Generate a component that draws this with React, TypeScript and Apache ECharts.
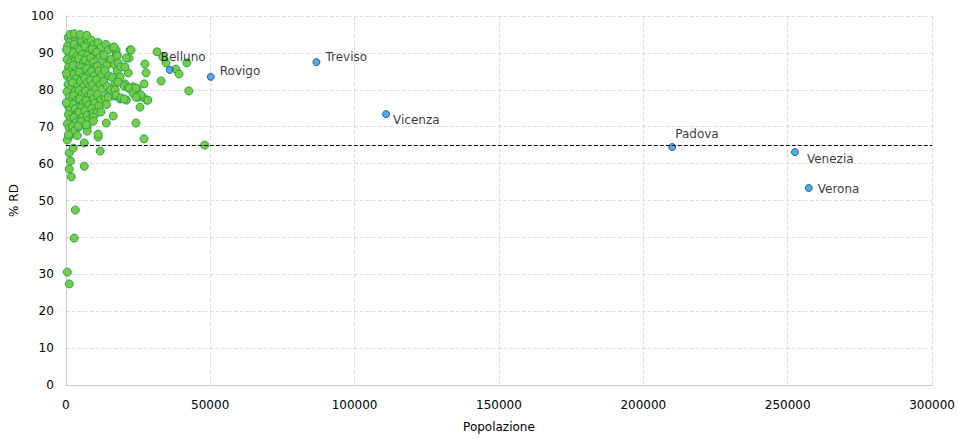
import React, { useEffect, useRef } from "react";
import * as echarts from "echarts";

const xTicks = { min: 0, max: 300000, interval: 50000 };
const yTicks = { min: 0, max: 100, interval: 10 };
const threshold = 65;

const capitals: [string, number, number][] = [
  ["Belluno", 36000, 85.4],
  ["Rovigo", 50200, 83.5],
  ["Treviso", 86800, 87.5],
  ["Vicenza", 110900, 73.4],
  ["Padova", 210000, 64.5],
  ["Venezia", 252500, 63.1],
  ["Verona", 257300, 53.4],
];

const municipalities: [number, number][] = [
  [820, 94.2], [1450, 93.1], [600, 91.8], [1900, 90.5], [1100, 89.7], [450, 88.2], [1700, 87.5], [950, 86.1], [1300, 85.0], [520, 83.7], [1800, 82.9], [760, 81.4], [1550, 80.2], [380, 79.5], [1250, 78.1], [1950, 77.0], [680, 75.8], [1400, 74.6], [900, 73.3], [1650, 72.1], [550, 70.8], [1200, 69.6], [1850, 68.5], [1000, 67.3],
  [2600, 94.8], [3400, 93.6], [2900, 92.4], [4100, 91.2], [2400, 90.1], [3700, 89.0], [3100, 87.8], [2500, 86.6], [3900, 85.3], [2800, 84.2], [3500, 83.0], [2350, 81.9], [4000, 80.7], [3200, 79.6], [2700, 78.4], [3800, 77.2], [2450, 76.1], [3300, 74.9], [4150, 73.7], [2850, 72.5], [3600, 71.2], [2300, 70.1], [3050, 68.9], [3950, 67.6],
  [4600, 94.6], [5500, 93.3], [6200, 92.0], [4900, 90.9], [5800, 89.6], [4450, 88.4], [6100, 87.3], [5200, 86.0], [4700, 84.8], [5900, 83.5], [5050, 82.4], [6250, 81.1], [4550, 79.9], [5600, 78.8], [4800, 77.5], [6000, 76.3], [5300, 75.1], [4650, 73.9], [5750, 72.6], [5150, 71.4], [4500, 69.9],
  [6900, 94.1], [7700, 92.9], [6600, 91.7], [8200, 90.6], [7300, 89.3], [6700, 88.1], [7950, 86.9], [7100, 85.7], [8100, 84.4], [6550, 83.2], [7500, 82.0], [8250, 80.8], [6800, 79.6], [7800, 78.3], [7050, 77.1], [8000, 75.9], [6650, 74.4], [7400, 73.1], [7900, 71.8],
  [8800, 93.5], [9700, 92.2], [9100, 91.0], [10200, 89.8], [8600, 88.6], [9500, 87.4], [10100, 86.2], [8900, 85.0], [9800, 83.8], [8550, 82.6], [9300, 81.3], [10250, 80.1], [8700, 78.9], [9600, 77.6], [10000, 76.4], [8950, 75.0], [9400, 73.6],
  [11200, 92.8], [12300, 91.5], [10700, 90.2], [11800, 88.9], [12600, 87.7], [10900, 86.4], [11500, 85.1], [12400, 83.9], [10600, 82.7], [11900, 81.4], [12500, 80.2], [11000, 78.7], [12100, 77.3], [11400, 75.6], [10800, 73.8],
  [13800, 92.3], [14700, 90.8], [13200, 89.4], [15100, 87.9], [14200, 86.6], [13500, 85.2], [14900, 83.8], [13100, 82.3], [14400, 80.9], [15000, 79.4], [13600, 77.8], [14100, 76.0],
  [16200, 91.4], [17500, 89.9], [15700, 88.3], [16900, 86.8], [17800, 85.2], [16000, 83.4], [17200, 81.8], [15600, 80.0], [16600, 78.3],
  [1500, 95.0], [3000, 95.2], [5000, 95.0], [7200, 94.8], [200, 84.5], [150, 76.5], [250, 90.8],
  [22250, 90.8], [31600, 90.3], [27400, 87.0], [27800, 84.6], [27100, 81.6], [33000, 82.4], [38100, 85.6], [39200, 84.3], [41900, 87.3], [42600, 79.7], [34700, 87.3], [33600, 88.9], [48100, 65.0], [27100, 66.7], [24300, 71.0], [25700, 75.3], [28100, 77.2], [21900, 88.6], [21600, 84.6], [20500, 81.6], [26700, 78.0], [25000, 78.0], [21000, 77.2], [18800, 77.5], [16400, 72.9], [14000, 71.0], [11900, 63.4], [6400, 59.3], [6400, 65.6], [1900, 56.4], [1200, 58.5], [1600, 60.7], [1200, 62.9], [2600, 64.2], [500, 66.4], [900, 67.8], [11200, 67.2], [11200, 68.0], [7400, 69.9], [7400, 68.8], [4300, 70.2], [3300, 47.4], [2900, 39.8], [500, 30.6], [1200, 27.4],
  [17400, 90.8], [17800, 89.2], [18100, 87.3], [19100, 86.2], [18800, 83.5], [18100, 82.1], [20200, 81.0], [17100, 80.0], [17400, 78.6], [14700, 78.0], [21600, 80.5], [23300, 80.8], [24700, 80.2], [26000, 78.6], [12200, 74.0], [9500, 72.6], [9500, 71.5], [7100, 70.5], [22600, 90.8], [28400, 77.2], [20500, 86.2], [16700, 91.6], [21900, 80.5], [23300, 79.1], [24300, 78.0], [19100, 77.8], [20200, 77.5], [20900, 88.6], [24300, 80.5],
];

const labelOffsets: Record<string, [number, number]> = {
  Belluno: [-18, -13],
  Rovigo: [0, -6],
  Treviso: [0, -5],
  Vicenza: [-2, 6],
  Padova: [-6, -13],
  Venezia: [3, 7],
  Verona: [0, 1],
};

const FONT = "DejaVu Sans";

export default function App() {
  const ref = useRef<HTMLDivElement>(null);
  useEffect(() => {
    if (!ref.current) return;
    const chart = echarts.init(ref.current, undefined, { renderer: "svg" });
    chart.setOption({
      animation: false,
      textStyle: { fontFamily: FONT },
      grid: { left: 64, right: 25, top: 16, bottom: 54, containLabel: false },
      xAxis: {
        type: "value",
        min: xTicks.min,
        max: xTicks.max,
        interval: xTicks.interval,
        name: "Popolazione",
        nameLocation: "middle",
        nameGap: 36,
        nameTextStyle: { fontFamily: FONT, fontSize: 12, color: "#000" },
        axisLine: { show: true, lineStyle: { color: "#c8c8c8" } },
        axisTick: { show: false },
        axisLabel: { fontFamily: FONT, fontSize: 12, color: "#000", margin: 14, formatter: (v: number) => String(v) },
        splitLine: { show: true, lineStyle: { color: "#dcdcdc", type: "dashed" } },
      },
      yAxis: {
        type: "value",
        min: yTicks.min,
        max: yTicks.max,
        interval: yTicks.interval,
        name: "% RD",
        nameLocation: "middle",
        nameGap: 43,
        nameTextStyle: { fontFamily: FONT, fontSize: 12, color: "#000" },
        axisLine: { show: true, lineStyle: { color: "#c8c8c8" } },
        axisTick: { show: false },
        axisLabel: { fontFamily: FONT, fontSize: 12, color: "#000", margin: 12, formatter: (v: number) => String(v) },
        splitLine: { show: true, lineStyle: { color: "#dcdcdc", type: "dashed" } },
      },
      series: [
        {
          type: "scatter",
          data: municipalities,
          symbolSize: 8,
          itemStyle: { color: "#78cc4a", borderColor: "#22a84a", borderWidth: 1, opacity: 1 },
          markLine: {
            silent: true,
            symbol: "none",
            label: { show: false },
            lineStyle: { color: "#000", type: "dashed", width: 1 },
            data: [{ yAxis: threshold }],
          },
          z: 2,
        },
        {
          type: "scatter",
          data: capitals.map(([name, x, y]) => ({
            name,
            value: [x, y],
            label: { offset: labelOffsets[name] },
          })),
          symbolSize: 7,
          itemStyle: { color: "#1e9be6", borderColor: "#1f3b73", borderWidth: 1 },
          label: {
            show: true,
            position: "right",
            formatter: (p: any) => p.name,
            fontFamily: FONT,
            fontSize: 12,
            color: "#000",
          },
          z: 3,
        },
      ],
    });
    return () => chart.dispose();
  }, []);
  return <div ref={ref} style={{ position: "absolute", left: 0, top: 0, width: 958, height: 439 }} />;
}
